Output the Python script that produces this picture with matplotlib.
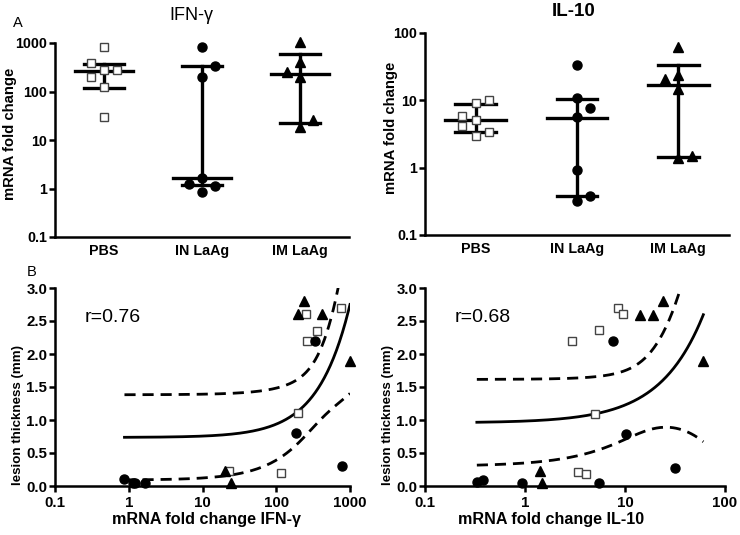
import numpy as np
import matplotlib
matplotlib.use('Agg')
import matplotlib.pyplot as plt

plt.rcParams['font.family'] = ['Liberation Sans', 'DejaVu Sans']

# ---- Panel A data (mRNA fold change per group) ----
groups = ['PBS', 'IN LaAg', 'IM LaAg']

ifn_pbs = [840, 392, 281, 278, 200, 125, 30]
ifn_in = [813, 340, 196, 1.66, 1.21, 1.13, 0.85]
ifn_im = [1030, 410, 255, 200, 26, 18.6]
# column-scatter offsets (-1 left, 0 centre, 1 right)
ifn_pbs_off = [0, -1, 0, 1, -1, 0, 0]
ifn_in_off = [0, 1, 0, 0, -1, 1, 0]
ifn_im_off = [0, 0, -1, 0, 1, 0]
# median, lower quartile, upper quartile
ifn_median = [270, 1.66, 233]
ifn_q1 = [118, 1.2, 22.8]
ifn_q3 = [370, 340, 600]

il10_pbs = [10.2, 9.1, 5.9, 5.15, 4.1, 3.4, 2.97]
il10_in = [33.8, 10.9, 7.8, 5.57, 0.93, 0.38, 0.32]
il10_im = [63, 20.4, 24, 14.7, 1.38, 1.5]
il10_pbs_off = [1, 0, -1, 0, -1, 1, 0]
il10_in_off = [0, 0, 1, 0, 0, 1, 0]
il10_im_off = [0, -1, 0, 0, 0, 1]
il10_median = [5.1, 5.5, 17]
il10_q1 = [3.4, 0.38, 1.45]
il10_q3 = [8.7, 10.5, 33]

# ---- Panel B data (fold change vs lesion thickness) ----
ifn_x_in = [0.875, 1.13, 1.22, 1.66, 187, 333, 770]
ifn_y_in = [0.1, 0.05, 0.05, 0.05, 0.8, 2.2, 0.3]
ifn_x_pbs = [23, 117, 196, 250, 258, 352, 760]
ifn_y_pbs = [0.22, 0.2, 1.1, 2.6, 2.2, 2.35, 2.7]
ifn_x_im = [20.5, 24, 196, 240, 417, 1000]
ifn_y_im = [0.23, 0.05, 2.6, 2.8, 2.6, 1.89]

il10_x_in = [0.33, 0.38, 0.93, 5.45, 7.6, 10.2, 31.6]
il10_y_in = [0.055, 0.09, 0.04, 0.04, 2.19, 0.79, 0.28]
il10_x_pbs = [2.95, 5.5, 8.6, 9.6, 4.98, 3.36, 4.07]
il10_y_pbs = [2.2, 2.36, 2.7, 2.6, 1.09, 0.21, 0.18]
il10_x_im = [1.41, 1.49, 14.1, 18.9, 23.8, 60.7]
il10_y_im = [0.23, 0.04, 2.59, 2.59, 2.8, 1.89]

T_975_18 = 2.101  # t critical value, 95% CI, 18 dof

SPINE_W = 1.8
sq_style = dict(marker='s', mfc='white', mec='#444444', mew=1.0, ms=6, ls='none')
ci_style = dict(marker='o', color='black', ms=6.5, ls='none')
tr_style = dict(marker='^', color='black', ms=6.5, ls='none')
styles = [sq_style, ci_style, tr_style]


def style_axes(ax, labelsize):
    for s in ['top', 'right']:
        ax.spines[s].set_visible(False)
    for s in ['left', 'bottom']:
        ax.spines[s].set_linewidth(SPINE_W)
    ax.tick_params(width=SPINE_W, length=4, pad=1.5, labelsize=labelsize)
    ax.tick_params(axis='both', which='minor', length=0)
    for lab in ax.get_xticklabels() + ax.get_yticklabels():
        lab.set_fontweight('bold')


def column_panel(ax, values, offsets, med, q1, q3, yticks, ylabels, ylab_x):
    for i, (vals, offs) in enumerate(zip(values, offsets)):
        xs = i + 0.13 * np.array(offs)
        ax.plot(xs, vals, zorder=3, clip_on=False, **styles[i])
        ax.plot([i, i], [q1[i], q3[i]], color='black', lw=2.4, zorder=2)
        ax.plot([i - 0.3, i + 0.3], [med[i], med[i]], color='black', lw=2.4, zorder=2)
        ax.plot([i - 0.2, i + 0.2], [q1[i], q1[i]], color='black', lw=2.4, zorder=2)
        ax.plot([i - 0.2, i + 0.2], [q3[i], q3[i]], color='black', lw=2.4, zorder=2)
    ax.set_yscale('log')
    ax.set_xlim(-0.5, 2.5)
    ax.set_ylim(yticks[0], yticks[-1])
    ax.set_yticks(yticks)
    ax.set_yticklabels(ylabels)
    ax.set_xticks(range(len(groups)))
    ax.set_xticklabels(groups)
    ax.set_ylabel('mRNA fold change', fontweight='bold', fontsize=10.7)
    ax.yaxis.set_label_coords(ylab_x, 0.53)
    ax.yaxis.label.set_va('center')
    style_axes(ax, 10.3)
    ax.tick_params(axis='x', length=0, pad=5)


def regression_panel(ax, xs_list, ys_list, xlim, xticks, xlabels, xlabel, rtext,
                     ylab_x, xlab_x):
    for i, (xs, ys) in enumerate(zip(xs_list, ys_list)):
        ax.plot(xs, ys, zorder=3, clip_on=False, **styles[i])
    x = np.concatenate([np.array(v, float) for v in xs_list])
    y = np.concatenate([np.array(v, float) for v in ys_list])
    n = len(x)
    b, a = np.polyfit(x, y, 1)
    resid = y - (a + b * x)
    s = np.sqrt(np.sum(resid ** 2) / (n - 2))
    sxx = np.sum((x - x.mean()) ** 2)
    xx = np.geomspace(x.min(), x.max(), 300)
    yy = a + b * xx
    half = T_975_18 * s * np.sqrt(1.0 / n + (xx - x.mean()) ** 2 / sxx)
    ax.plot(xx, yy, color='black', lw=2.0, zorder=2)
    ax.plot(xx, yy + half, color='black', lw=2.0, ls=(0, (4, 2.5)), zorder=2)
    ax.plot(xx, yy - half, color='black', lw=2.0, ls=(0, (4, 2.5)), zorder=2)
    ax.set_xscale('log')
    ax.set_xlim(*xlim)
    ax.set_ylim(0, 3.0)
    ax.set_xticks(xticks)
    ax.set_xticklabels(xlabels)
    ax.set_yticks(np.arange(0, 3.01, 0.5))
    ax.set_yticklabels(['%.1f' % v for v in np.arange(0, 3.01, 0.5)])
    ax.set_ylabel('lesion thickness (mm)', fontweight='bold', fontsize=9.6)
    ax.yaxis.set_label_coords(ylab_x, 0.36)
    ax.yaxis.label.set_va('center')
    ax.set_xlabel(xlabel, fontweight='bold', fontsize=11.6)
    ax.xaxis.set_label_coords(xlab_x, -0.167)
    ax.xaxis.label.set_va('center')
    ax.text(0.1, 0.85, rtext, transform=ax.transAxes, fontsize=14, va='center')
    style_axes(ax, 10.8)
    ax.tick_params(axis='x', pad=3.5)


fig = plt.figure(figsize=(7.4, 5.35), dpi=100)
W, H = 740.0, 535.0


def add_ax(l, t, r, b):
    return fig.add_axes([l / W, 1 - b / H, (r - l) / W, (b - t) / H])


ax1 = add_ax(55, 43, 349, 237)
ax2 = add_ax(425, 33, 729, 235)
ax3 = add_ax(55, 288, 350, 486)
ax4 = add_ax(425, 288, 725, 486)

column_panel(ax1, [ifn_pbs, ifn_in, ifn_im], [ifn_pbs_off, ifn_in_off, ifn_im_off],
             ifn_median, ifn_q1, ifn_q3, [0.1, 1, 10, 100, 1000],
             ['0.1', '1', '10', '100', '1000'], -0.153)
column_panel(ax2, [il10_pbs, il10_in, il10_im], [il10_pbs_off, il10_in_off, il10_im_off],
             il10_median, il10_q1, il10_q3, [0.1, 1, 10, 100],
             ['0.1', '1', '10', '100'], -0.112)

regression_panel(ax3, [ifn_x_pbs, ifn_x_in, ifn_x_im], [ifn_y_pbs, ifn_y_in, ifn_y_im],
                 (0.1, 1000), [0.1, 1, 10, 100, 1000], ['0.1', '1', '10', '100', '1000'],
                 'mRNA fold change IFN-\u03b3', 'r=0.76', -0.125, 0.515)
regression_panel(ax4, [il10_x_pbs, il10_x_in, il10_x_im], [il10_y_pbs, il10_y_in, il10_y_im],
                 (0.1, 100), [0.1, 1, 10, 100], ['0.1', '1', '10', '100'],
                 'mRNA fold change IL-10', 'r=0.68', -0.123, 0.42)

fig.text(191 / W, 1 - 15 / H, 'IFN-\u03b3', fontsize=13, ha='center', va='center')
fig.text(574 / W, 1 - 12 / H, 'IL-10', fontsize=13.5, fontweight='bold', ha='center', va='center')
fig.text(18 / W, 1 - 23 / H, 'A', fontsize=10.5, ha='center', va='center')
fig.text(32 / W, 1 - 272 / H, 'B', fontsize=10.5, ha='center', va='center')

fig.savefig('out.png', dpi=100)
